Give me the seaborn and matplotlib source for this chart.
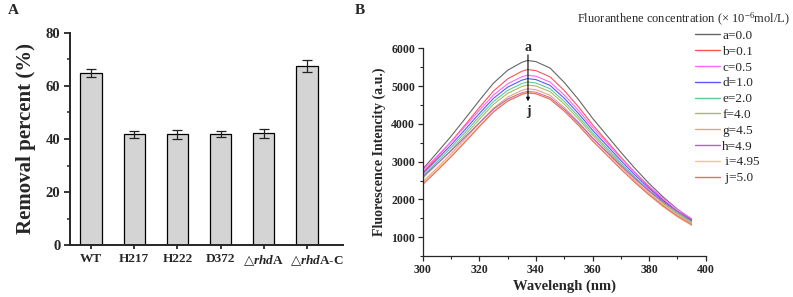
import matplotlib
matplotlib.use('agg')
import numpy as np
import pandas as pd
import seaborn as sns
import matplotlib.pyplot as plt
from matplotlib.lines import Line2D
from matplotlib.ticker import MultipleLocator

# panel A: removal percent
strains = ['WT', 'H217', 'H222', 'D372', 'rhdA', 'rhdA-C']
strain_labels = ['WT', 'H217', 'H222', 'D372',
                 r'$\mathsf{△}\mathit{rhd}$A', r'$\mathsf{△}\mathit{rhd}$A-C']
removal = [64.8, 41.7, 41.8, 41.9, 42.1, 67.5]
removal_err = [1.5, 1.5, 1.7, 1.3, 1.7, 2.2]

# panel B: fluorescence spectra
wavelength = [300, 305, 310, 315, 320, 325, 330, 335, 337, 340, 345,
              350, 355, 360, 365, 370, 375, 380, 385, 390, 395]
conc_labels = ['a=0.0', 'b=0.1', 'c=0.5', 'd=1.0', 'e=2.0', 'f=4.0',
               'g=4.5', 'h=4.9', ' i=4.95', ' j=5.0']
spec_a = [2800, 3230, 3670, 4140, 4620, 5080, 5420, 5630, 5680, 5650, 5480, 5100, 4650, 4150, 3700, 3250, 2820, 2420, 2060, 1740, 1470]
spec_b = [2700, 3108, 3527, 3974, 4432, 4870, 5193, 5393, 5440, 5412, 5247, 4885, 4455, 3981, 3551, 3120, 2710, 2329, 1983, 1677, 1420]
spec_c = [2760, 3137, 3524, 3936, 4359, 4764, 5062, 5247, 5290, 5263, 5108, 4766, 4359, 3911, 3504, 3097, 2710, 2349, 2022, 1733, 1490]
spec_d = [2680, 3055, 3441, 3852, 4273, 4676, 4973, 5157, 5200, 5174, 5020, 4681, 4279, 3835, 3433, 3030, 2647, 2290, 1966, 1681, 1440]
spec_e = [2620, 2991, 3372, 3778, 4194, 4592, 4886, 5068, 5110, 5084, 4932, 4598, 4201, 3763, 3366, 2969, 2591, 2238, 1919, 1637, 1400]
spec_f = [2560, 2928, 3306, 3709, 4121, 4516, 4808, 4988, 5030, 5004, 4855, 4526, 4136, 3705, 3315, 2924, 2552, 2205, 1891, 1614, 1380]
spec_g = [2460, 2828, 3206, 3609, 4021, 4416, 4708, 4888, 4930, 4905, 4758, 4436, 4053, 3630, 3247, 2864, 2499, 2159, 1851, 1579, 1350]
spec_h = [2600, 2937, 3283, 3651, 4028, 4390, 4657, 4822, 4860, 4836, 4697, 4391, 4027, 3626, 3262, 2898, 2551, 2228, 1936, 1678, 1460]
spec_i = [2420, 2781, 3151, 3545, 3949, 4337, 4622, 4799, 4840, 4815, 4671, 4353, 3975, 3559, 3181, 2803, 2443, 2108, 1804, 1536, 1310]
spec_j = [2390, 2752, 3124, 3520, 3926, 4315, 4601, 4779, 4820, 4796, 4652, 4338, 3965, 3553, 3180, 2806, 2450, 2119, 1819, 1553, 1330]
spectra = [spec_a, spec_b, spec_c, spec_d, spec_e, spec_f, spec_g, spec_h, spec_i, spec_j]
colors = ['#666666', '#ff5555', '#ff66ff', '#5959ff', '#5ccc95', '#aab866',
          '#e2a585', '#b65fc6', '#ffc36e', '#e27070']

sns.set_style('ticks')
plt.rcParams['font.family'] = ['Liberation Serif', 'DejaVu Serif']
plt.rcParams['mathtext.fontset'] = 'custom'
plt.rcParams['mathtext.default'] = 'regular'
plt.rcParams['mathtext.it'] = 'Liberation Serif:italic:bold'
plt.rcParams['mathtext.sf'] = 'DejaVu Serif'

fig = plt.figure(figsize=(7.93, 2.97), dpi=100)

# ---- panel A
axA = fig.add_axes([0.0883, 0.175, 0.344, 0.714])
sns.barplot(x=strains, y=removal, color='#d4d4d4', edgecolor='black',
            linewidth=0.9, width=0.49, errorbar=None, ax=axA)
for p in axA.patches:
    p.set_facecolor('#d4d4d4')
axA.errorbar(range(len(strains)), removal, yerr=removal_err, fmt='none',
             ecolor='#222222', elinewidth=0.9, capsize=3.5, capthick=0.9)
axA.set_xlim(-0.486, 5.83)
axA.set_ylim(0, 80)
axA.yaxis.set_major_locator(MultipleLocator(20))
axA.yaxis.set_minor_locator(MultipleLocator(10))
axA.set_xticks(range(len(strains)))
# last label sits a bit right of its tick in the original, draw it by hand
axA.set_xticklabels(strain_labels[:-1] + [''], fontweight='bold', fontsize=9.5)
axA.annotate(strain_labels[-1], xy=(len(strains) - 1, 0),
             xycoords=('data', 'axes fraction'), xytext=(7.5, -6),
             textcoords='offset points', ha='center', va='top',
             fontsize=9.5, fontweight='bold', annotation_clip=False)
for t in axA.get_yticklabels():
    t.set_fontweight('bold')
    t.set_fontsize(10.5)
axA.set_ylabel('Removal percent (%)', fontsize=15, fontweight='bold', labelpad=7)
axA.set_xlabel('')
sns.despine(ax=axA)
for s in ['left', 'bottom']:
    axA.spines[s].set_linewidth(1.4)
axA.tick_params(axis='both', which='major', direction='out', length=4, width=1.3, pad=3)
axA.tick_params(axis='y', which='minor', direction='out', length=2.5, width=1.1)
axA.tick_params(axis='x', which='major', length=3)

# ---- panel B
rows = []
for lab, vals in zip(conc_labels, spectra):
    for w, v in zip(wavelength, vals):
        rows.append((lab, w, v))
df = pd.DataFrame(rows, columns=['conc', 'wavelength', 'intensity'])

axB = fig.add_axes([0.533, 0.138, 0.357, 0.699])
sns.lineplot(data=df, x='wavelength', y='intensity', hue='conc',
             hue_order=conc_labels, palette=colors, lw=0.8, legend=False,
             ax=axB, sort=False)
axB.set_xlim(300, 400)
axB.set_ylim(500, 6000)
axB.xaxis.set_major_locator(MultipleLocator(20))
axB.xaxis.set_minor_locator(MultipleLocator(10))
axB.yaxis.set_major_locator(MultipleLocator(1000))
axB.yaxis.set_minor_locator(MultipleLocator(500))
axB.set_yticks([1000, 2000, 3000, 4000, 5000, 6000])
for t in axB.get_xticklabels() + axB.get_yticklabels():
    t.set_fontweight('bold')
    t.set_fontsize(8.5)
axB.set_xlabel('Wavelengh (nm)', fontsize=10.5, fontweight='bold', labelpad=3)
axB.set_ylabel('Fluorescence Intencity (a.u.)', fontsize=10, fontweight='bold', labelpad=4)
sns.despine(ax=axB)
for s in ['left', 'bottom']:
    axB.spines[s].set_linewidth(0.9)
axB.tick_params(axis='both', which='major', direction='out', length=3.5, width=0.9, pad=2)
axB.tick_params(axis='both', which='minor', direction='out', length=2, width=0.8)

axB.annotate('', xy=(337.2, 4600), xytext=(337.2, 5830),
             arrowprops=dict(arrowstyle='-|>', color='black', lw=0.8,
                             mutation_scale=5, shrinkA=0, shrinkB=0))
axB.text(337.2, 6020, 'a', ha='center', va='center', fontsize=10,
         fontweight='bold', clip_on=False)
axB.text(337.2, 4330, 'j', ha='center', va='center', fontsize=10,
         fontweight='bold')

handles = [Line2D([], [], color=c, lw=1.0) for c in colors]
fig.legend(handles, conc_labels, loc='upper left',
           bbox_to_anchor=(0.876, 0.90), frameon=False, fontsize=9.5,
           handlelength=1.9, handletextpad=0.2, labelspacing=0.27,
           borderpad=0, borderaxespad=0)
fig.text(577 / 793, 1 - 19 / 297, 'Fluoranthene concentration (× 10$^{-6}$mol/L)',
         ha='left', va='center', fontsize=9)

fig.text(13 / 793, 1 - 11 / 297, 'A', fontsize=11, fontweight='bold', ha='center', va='center')
fig.text(360 / 793, 1 - 11 / 297, 'B', fontsize=11, fontweight='bold', ha='center', va='center')

fig.savefig('out.png', dpi=100)
